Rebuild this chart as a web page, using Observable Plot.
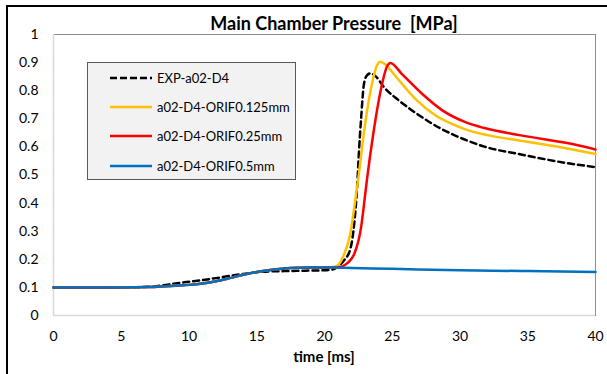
<!DOCTYPE html>
<html>
<head>
<meta charset="utf-8">
<script src="https://cdn.jsdelivr.net/npm/d3@7"></script>
<script src="https://cdn.jsdelivr.net/npm/@observablehq/plot@0.6"></script>
<style>
  html, body { margin: 0; padding: 0; background: #fff; }
  #wrap { position: relative; width: 607px; height: 374px; overflow: hidden; font-family: Lato, "Liberation Sans", sans-serif; }
  #outer { position: absolute; left: 6px; top: 5px; width: 700px; height: 500px; border-left: 2.5px solid #000; border-top: 2.5px solid #000; box-sizing: border-box; }
  #title { position: absolute; left: 0; width: 668px; top: 12px; text-align: center; font-weight: bold; font-size: 18px; color: #000; white-space: pre; }
  #xlabel { position: absolute; left: 0; width: 648px; top: 347px; text-align: center; font-weight: bold; font-size: 15px; color: #000; }
  #legend { position: absolute; left: 87px; top: 62px; width: 209px; height: 118px; background: #f2f2f2; border: 1px solid #595959; box-sizing: border-box; }
  .item { position: absolute; left: 22px; height: 16px; display: flex; align-items: center; font-size: 13px; color: #000; }
  .item svg { margin-right: 5px; }
  #chart { position: absolute; left: 0; top: 0; }
</style>
</head>
<body>
<div id="wrap">
  <div id="outer"></div>
  <div id="chart"></div>
  <div id="title"></div>
  <div id="xlabel"></div>
  <div id="legend"></div>
</div>
<script>
// ---- data ----
const titleText = "Main Chamber Pressure  [MPa]";
const xLabelText = "time [ms]";
const seriesNames = ["EXP-a02-D4", "a02-D4-ORIF0.125mm", "a02-D4-ORIF0.25mm", "a02-D4-ORIF0.5mm"];
const xTicks = [0, 5, 10, 15, 20, 25, 30, 35, 40];
const yTicks = [0, 0.1, 0.2, 0.3, 0.4, 0.5, 0.6, 0.7, 0.8, 0.9, 1];
const yTickLabels = ["0", "0.1", "0.2", "0.3", "0.4", "0.5", "0.6", "0.7", "0.8", "0.9", "1"];

const expT = [0, 5, 7, 8, 9, 10, 11, 12, 13, 14, 15, 16, 17, 18, 19, 20, 20.6, 21, 21.5, 21.9, 22.2, 22.4, 22.55, 22.7, 22.9, 23.1, 23.4, 23.8, 24.4, 25.5, 27.0, 28.4, 30.2, 31.8, 34.5, 38.2, 40];
const expP = [0.1, 0.1, 0.102, 0.107, 0.114, 0.12, 0.126, 0.133, 0.141, 0.148, 0.154, 0.157, 0.158, 0.159, 0.16, 0.161, 0.164, 0.175, 0.2, 0.235, 0.33, 0.45, 0.59, 0.70, 0.82, 0.852, 0.862, 0.85, 0.812, 0.765, 0.712, 0.67, 0.629, 0.601, 0.573, 0.54, 0.528];

const o125T = [0, 5, 7, 8, 9, 10, 11, 12, 13, 14, 15, 16, 17, 18, 19, 20, 20.5, 21, 21.4, 21.9, 22.3, 22.5, 22.9, 23.5, 23.9, 24.13, 24.5, 25.2, 26.7, 28.2, 29.7, 30.8, 32, 34.5, 38.2, 40];
const o125P = [0.1, 0.1, 0.101, 0.103, 0.106, 0.109, 0.114, 0.122, 0.133, 0.145, 0.155, 0.162, 0.167, 0.17, 0.171, 0.171, 0.172, 0.18, 0.213, 0.29, 0.42, 0.49, 0.647, 0.824, 0.893, 0.903, 0.893, 0.854, 0.771, 0.712, 0.676, 0.656, 0.642, 0.622, 0.592, 0.575];

const o25T = [0, 5, 7, 8, 9, 10, 11, 12, 13, 14, 15, 16, 17, 18, 19, 20, 20.5, 21, 21.5, 22.2, 22.7, 23.0, 23.15, 23.6, 24.25, 24.6, 24.87, 25.7, 27.2, 28.7, 30.4, 31.8, 34.5, 38.2, 40];
const o25P = [0.1, 0.1, 0.101, 0.103, 0.106, 0.109, 0.114, 0.122, 0.133, 0.145, 0.155, 0.162, 0.167, 0.17, 0.171, 0.171, 0.171, 0.172, 0.18, 0.22, 0.314, 0.43, 0.49, 0.647, 0.824, 0.885, 0.899, 0.86, 0.789, 0.73, 0.688, 0.667, 0.641, 0.611, 0.591];

const o5T = [0, 5, 7, 8, 9, 10, 11, 12, 13, 14, 15, 16, 17, 18, 19, 20, 21, 22, 25, 30, 35, 40];
const o5P = [0.1, 0.1, 0.101, 0.103, 0.106, 0.109, 0.114, 0.122, 0.133, 0.145, 0.155, 0.162, 0.167, 0.17, 0.171, 0.171, 0.17, 0.169, 0.166, 0.161, 0.158, 0.155];

// ---- build tidy table ----
const colors = ["#000000", "#FFC000", "#FF0000", "#0070C0"];
const pairs = [[expT, expP], [o125T, o125P], [o25T, o25P], [o5T, o5P]];
const rows = [];
pairs.forEach(([T, P], i) => T.forEach((t, j) => rows.push({t, p: P[j], s: seriesNames[i]})));

const fontFamily = "Lato, 'Liberation Sans', sans-serif";

const chart = Plot.plot({
  width: 607,
  height: 374,
  marginLeft: 53,
  marginRight: 12,
  marginTop: 34,
  marginBottom: 59,
  style: {fontFamily, fontSize: "14px", color: "#000", background: "transparent"},
  x: {domain: [0, 40]},
  y: {domain: [0, 1]},
  color: {domain: seriesNames, range: colors},
  marks: [
    Plot.frame({stroke: "#8c8c8c", strokeWidth: 1}),
    Plot.ruleY([0], {stroke: "#d9d9d9", strokeWidth: 1.5}),
    Plot.ruleX([0], {stroke: "#d9d9d9", strokeWidth: 1.5}),
    Plot.axisX({ticks: xTicks, tickSize: 0, tickPadding: 16, label: null, fontSize: 14}),
    Plot.axisY({ticks: yTicks, tickSize: 0, tickPadding: 15, label: null, fontSize: 14,
      tickFormat: d => yTickLabels[yTicks.findIndex(v => Math.abs(v - d) < 1e-9)]}),
    Plot.line(rows.filter(d => d.s === seriesNames[0]), {x: "t", y: "p", stroke: "s", strokeWidth: 2.5, strokeDasharray: "6,4", curve: "monotone-x"}),
    Plot.line(rows.filter(d => d.s !== seriesNames[0]), {x: "t", y: "p", z: "s", stroke: "s", strokeWidth: 2.5, curve: "monotone-x"})
  ]
});
document.getElementById("chart").appendChild(chart);
document.getElementById("title").textContent = titleText;
document.getElementById("xlabel").textContent = xLabelText;

// legend
const legend = document.getElementById("legend");
const rowTops = [7, 36, 65, 95];
seriesNames.forEach((name, i) => {
  const item = document.createElement("div");
  item.className = "item";
  item.style.top = rowTops[i] + "px";
  const dash = i === 0 ? 'stroke-dasharray="7,3"' : "";
  item.innerHTML = `<svg width="42" height="6"><line x1="0" x2="42" y1="3" y2="3" stroke="${colors[i]}" stroke-width="2.5" ${dash}/></svg><span></span>`;
  item.querySelector("span").textContent = name;
  legend.appendChild(item);
});
</script>
</body>
</html>
